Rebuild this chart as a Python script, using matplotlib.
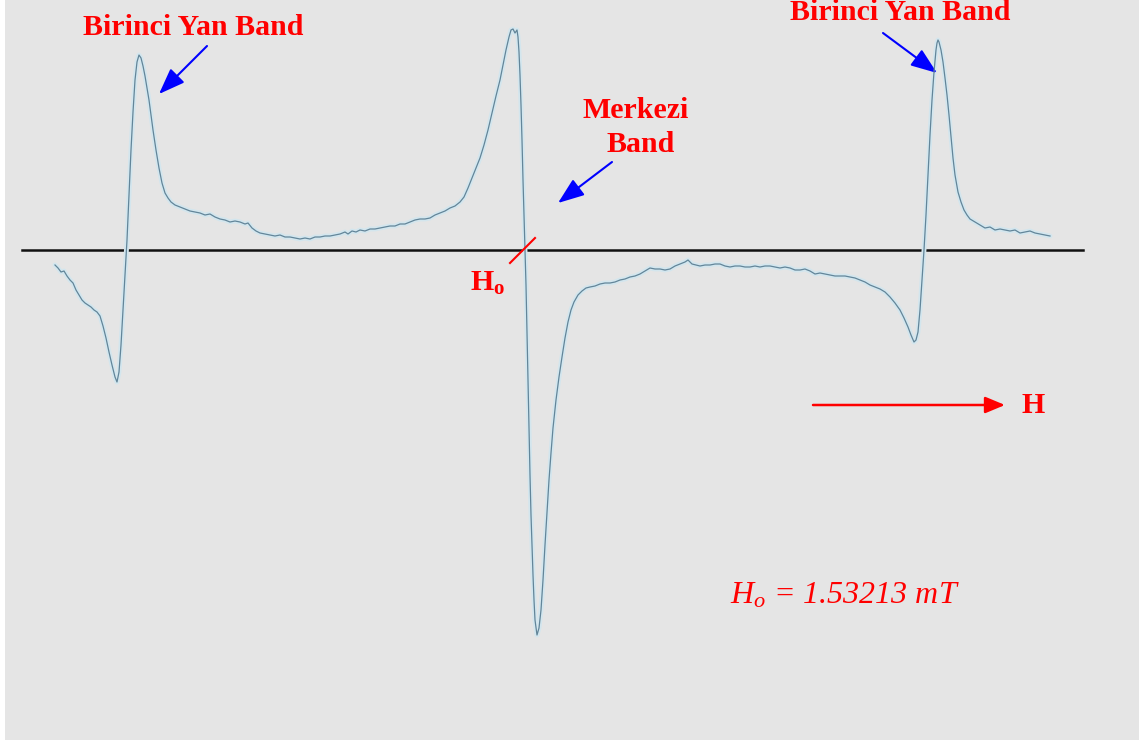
import matplotlib
matplotlib.use("Agg")
import matplotlib.pyplot as plt

plt.rcParams['mathtext.fontset'] = 'custom'
plt.rcParams['mathtext.rm'] = 'Liberation Serif'
plt.rcParams['mathtext.it'] = 'Liberation Serif:italic'
plt.rcParams['mathtext.bf'] = 'Liberation Serif:bold'

# magnetic field (arbitrary units, increasing to the right)
field = [55, 58, 61, 64, 67, 70, 73, 76, 79, 82, 85, 88, 91, 94, 97, 100, 103, 106, 109, 112,
         115, 117, 119, 121, 123, 125, 127, 129, 131, 133, 135, 137, 139, 141, 143, 145, 147, 149,
         151, 153, 156, 159, 162, 165, 168, 171, 175, 180, 185, 190, 195, 200, 205, 210, 215, 220,
         225, 230, 235, 240, 245, 248, 252, 256, 260, 265, 270, 275, 280, 285, 290, 295, 300, 305,
         310, 315, 320, 325, 330, 335, 340, 345, 348, 352, 356, 360, 365, 370, 375, 380, 385, 390,
         395, 400, 405, 410, 415, 420, 425, 430, 435, 440, 445, 450, 455, 460, 464, 468, 472, 476,
         480, 484, 488, 492, 496, 500, 503, 506, 509, 511, 513, 515, 517, 518, 519, 520, 521, 522,
         523, 524, 525, 526, 527, 528, 529, 530, 531, 532, 533, 534, 535, 537, 539, 541, 543, 545,
         547, 549, 551, 553, 556, 559, 562, 565, 568, 571, 574, 578, 582, 586, 590, 595, 600, 605,
         610, 615, 620, 625, 630, 635, 640, 645, 650, 655, 660, 665, 670, 675, 680, 685, 688, 692,
         696, 700, 705, 710, 715, 720, 725, 730, 735, 740, 745, 750, 755, 760, 765, 770, 775, 780,
         785, 790, 795, 800, 805, 810, 815, 820, 825, 830, 835, 840, 845, 850, 855, 860, 865, 870,
         875, 880, 885, 890, 895, 900, 904, 908, 911, 914, 916, 918, 920, 922, 924, 926, 928, 930,
         932, 934, 936, 937, 938, 939, 941, 943, 945, 947, 949, 951, 953, 955, 958, 961, 964, 967,
         970, 975, 980, 985, 990, 995, 1000, 1005, 1010, 1015, 1020, 1025, 1030, 1035, 1040, 1045,
         1050]

# derivative EPR signal (arbitrary units)
signal = [-15, -18, -22, -21, -26, -30, -33, -40, -45, -50, -53, -55, -57, -60, -62, -66, -76, -88,
          -102, -115, -127, -132, -122, -95, -60, -25, 10, 55, 100, 138, 170, 188, 195, 192, 184,
          174, 162, 150, 135, 120, 100, 82, 67, 57, 52, 48, 45, 43, 41, 39, 38, 37, 35, 36, 33, 31,
          30, 28, 29, 28, 26, 27, 22, 19, 17, 16, 15, 14, 15, 13, 13, 12, 11, 12, 11, 13, 13, 14,
          14, 15, 16, 18, 16, 19, 18, 20, 19, 21, 21, 22, 23, 24, 24, 26, 26, 28, 30, 31, 31, 32,
          35, 37, 39, 42, 44, 48, 53, 62, 72, 82, 92, 105, 120, 137, 154, 170, 185, 200, 213, 220,
          221, 217, 220, 213, 198, 175, 145, 110, 70, 35, 0, -35, -80, -130, -180, -225, -265, -295,
          -325, -350, -370, -385, -378, -360, -330, -295, -262, -230, -203, -178, -150, -127, -107,
          -88, -72, -60, -52, -45, -41, -38, -37, -36, -34, -33, -33, -32, -30, -29, -27, -26, -24,
          -21, -18, -19, -19, -20, -19, -16, -14, -12, -10, -14, -15, -16, -15, -15, -14, -14, -16,
          -17, -16, -16, -17, -17, -16, -17, -16, -16, -17, -18, -17, -18, -20, -20, -19, -21, -24,
          -23, -24, -25, -26, -26, -26, -27, -28, -30, -32, -35, -37, -39, -42, -47, -53, -60, -68,
          -77, -85, -92, -90, -82, -60, -30, 0, 35, 75, 115, 150, 178, 200, 207, 210, 208, 200, 188,
          172, 155, 135, 113, 92, 75, 58, 48, 40, 35, 31, 28, 25, 22, 23, 20, 21, 20, 19, 20, 17,
          18, 19, 17, 16, 15, 14]

H0_field = 525
H0_text = r'$H_o$ = 1.53213 mT'

fig = plt.figure(figsize=(11.48, 7.42), dpi=100, facecolor='white')
ax = fig.add_axes([5 / 1148, 2 / 742, 1134 / 1148, 740 / 742])
ax.set_facecolor('#e5e5e5')
ax.set_xlim(5, 1139)
ax.set_ylim(-490, 250)
ax.set_xticks([])
ax.set_yticks([])
for s in ax.spines.values():
    s.set_visible(False)

# baseline
ax.plot([22, 1083], [0, 0], color='#111111', lw=1.8, zorder=2)

# spectrum: pale halo + darker core
ax.plot(field, signal, color='#d3e6ee', lw=3.5, solid_capstyle='round', zorder=3)
ax.plot(field, signal, color='#628599', lw=0.9, zorder=4)

# Ho marker
ax.plot([H0_field - 15, H0_field + 10], [-13, 12], color='red', lw=1.5, zorder=5)

red = '#ff0000'
serif = 'Liberation Serif'

ax.text(83, 215, 'Birinci Yan Band', color=red, fontsize=21.5, fontweight='bold',
        family=serif, ha='left', va='baseline')
ax.text(790, 230, 'Birinci Yan Band', color=red, fontsize=21.5, fontweight='bold',
        family=serif, ha='left', va='baseline')
ax.text(636, 132, 'Merkezi', color=red, fontsize=21.5, fontweight='bold',
        family=serif, ha='center', va='baseline')
ax.text(641, 98, 'Band', color=red, fontsize=21.5, fontweight='bold',
        family=serif, ha='center', va='baseline')
ax.text(470, -41, r'$\mathbf{H_o}$', color=red, fontsize=21.5, ha='left', va='baseline')
ax.text(1022, -163, 'H', color=red, fontsize=21.5, fontweight='bold',
        family=serif, ha='left', va='baseline')
ax.text(730, -353, H0_text, color=red, fontsize=23, style='italic',
        family=serif, ha='left', va='baseline')

blue_arrow = dict(arrowstyle='-|>,head_length=0.8,head_width=0.3', color='#0000ff',
                  lw=1.5, mutation_scale=20, shrinkA=0, shrinkB=0)
ax.annotate('', xy=(159, 156), xytext=(207, 204), arrowprops=blue_arrow)
ax.annotate('', xy=(937, 177), xytext=(883, 217), arrowprops=blue_arrow)
ax.annotate('', xy=(558, 47), xytext=(612, 88), arrowprops=blue_arrow)

ax.annotate('', xy=(1005, -155), xytext=(813, -155),
            arrowprops=dict(arrowstyle='-|>,head_length=0.6,head_width=0.25', color=red,
                            lw=1.8, mutation_scale=20, shrinkA=0, shrinkB=0))

fig.savefig('out.png', dpi=100, facecolor='white')
